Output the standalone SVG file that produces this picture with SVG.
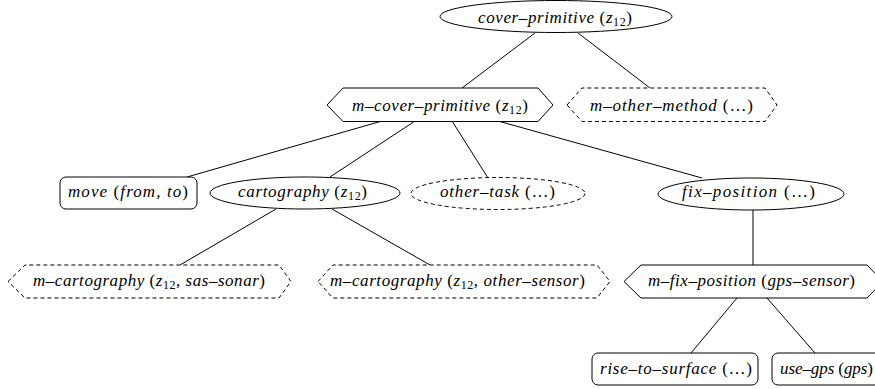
<svg xmlns="http://www.w3.org/2000/svg" width="875" height="389" viewBox="0 0 875 389">
<style>
.s{fill:#fff;stroke:#000;stroke-width:1}
.d{fill:#fff;stroke:#000;stroke-width:1;stroke-dasharray:4 3}
.e{stroke:#000;stroke-width:1;fill:none}
text{font-family:"Liberation Serif","Times New Roman",serif;font-size:17px;font-style:italic;fill:#000}
.u{font-style:normal}
.sb{font-style:normal;font-size:12px}
</style>
<rect width="875" height="389" fill="#fff"/>
<g id="edges">
<line class="e" x1="535" y1="33" x2="462" y2="88"/>
<line class="e" x1="578" y1="33" x2="650" y2="88"/>
<line class="e" x1="382" y1="121" x2="187" y2="177"/>
<line class="e" x1="415" y1="121" x2="330" y2="177"/>
<line class="e" x1="452" y1="121" x2="488" y2="178"/>
<line class="e" x1="498" y1="121" x2="702" y2="178"/>
<line class="e" x1="276" y1="209" x2="180" y2="265"/>
<line class="e" x1="332" y1="209" x2="430" y2="265"/>
<line class="e" x1="753" y1="210" x2="753" y2="265"/>
<line class="e" x1="737" y1="298" x2="691" y2="353"/>
<line class="e" x1="767" y1="298" x2="815" y2="353"/>
</g>
<g id="n-cover-primitive">
<ellipse class="s" cx="556" cy="16.5" rx="116" ry="16"/>
<text x="478" y="23" textLength="154" lengthAdjust="spacing">cover–primitive <tspan class="u">(</tspan>z<tspan class="sb" dy="3">12</tspan><tspan class="u" dy="-3">)</tspan></text>
</g>
<g id="n-m-cover-primitive">
<polygon class="s" points="327,105 343,88 538,88 553,105 538,121.5 343,121.5"/>
<text x="352" y="111" textLength="176" lengthAdjust="spacing">m–cover–primitive <tspan class="u">(</tspan>z<tspan class="sb" dy="3">12</tspan><tspan class="u" dy="-3">)</tspan></text>
</g>
<g id="n-m-other-method">
<polygon class="d" points="567,105 582,88 765,88 777,105 765,121.5 582,121.5"/>
<text x="590" y="111" textLength="163" lengthAdjust="spacing">m–other–method <tspan class="u">(…)</tspan></text>
</g>
<g id="n-move">
<rect class="s" x="60" y="177" width="137" height="32" rx="6"/>
<text x="68" y="197" textLength="120" lengthAdjust="spacing">move <tspan class="u">(</tspan>from, to<tspan class="u">)</tspan></text>
</g>
<g id="n-cartography">
<ellipse class="s" cx="305" cy="193" rx="95" ry="16"/>
<text x="238" y="197" textLength="129" lengthAdjust="spacing">cartography <tspan class="u">(</tspan>z<tspan class="sb" dy="3">12</tspan><tspan class="u" dy="-3">)</tspan></text>
</g>
<g id="n-other-task">
<ellipse class="d" cx="498" cy="193.5" rx="87" ry="16"/>
<text x="440" y="197" textLength="115" lengthAdjust="spacing">other–task <tspan class="u">(…)</tspan></text>
</g>
<g id="n-fix-position">
<ellipse class="s" cx="751" cy="194" rx="93" ry="16"/>
<text x="682" y="197" textLength="133" lengthAdjust="spacing">fix–position <tspan class="u">(…)</tspan></text>
</g>
<g id="n-m-cartography-sas">
<polygon class="d" points="8,281.5 25,265 279,265 291,281.5 279,298 25,298"/>
<text x="33" y="286" textLength="232" lengthAdjust="spacing">m–cartography <tspan class="u">(</tspan>z<tspan class="sb" dy="3">12</tspan><tspan class="u" dy="-3">, </tspan>sas–sonar<tspan class="u">)</tspan></text>
</g>
<g id="n-m-cartography-other">
<polygon class="d" points="318,281.5 333,265 597,265 610,281.5 597,298 333,298"/>
<text x="330" y="286" textLength="255" lengthAdjust="spacing">m–cartography <tspan class="u">(</tspan>z<tspan class="sb" dy="3">12</tspan><tspan class="u" dy="-3">, </tspan>other–sensor<tspan class="u">)</tspan></text>
</g>
<g id="n-m-fix-position">
<polygon class="s" points="624,281.5 641,265 867,265 883,281.5 867,298 641,298"/>
<text x="648" y="286" textLength="207" lengthAdjust="spacing">m–fix–position <tspan class="u">(</tspan>gps–sensor<tspan class="u">)</tspan></text>
</g>
<g id="n-rise-to-surface">
<rect class="s" x="592" y="353" width="166" height="32" rx="6"/>
<text x="600" y="374" textLength="152" lengthAdjust="spacing">rise–to–surface <tspan class="u">(…)</tspan></text>
</g>
<g id="n-use-gps">
<rect class="s" x="772" y="353" width="140" height="32" rx="6"/>
<text x="780" y="374" textLength="93" lengthAdjust="spacing">use–gps <tspan class="u">(</tspan>gps<tspan class="u">)</tspan></text>
</g>
</svg>
